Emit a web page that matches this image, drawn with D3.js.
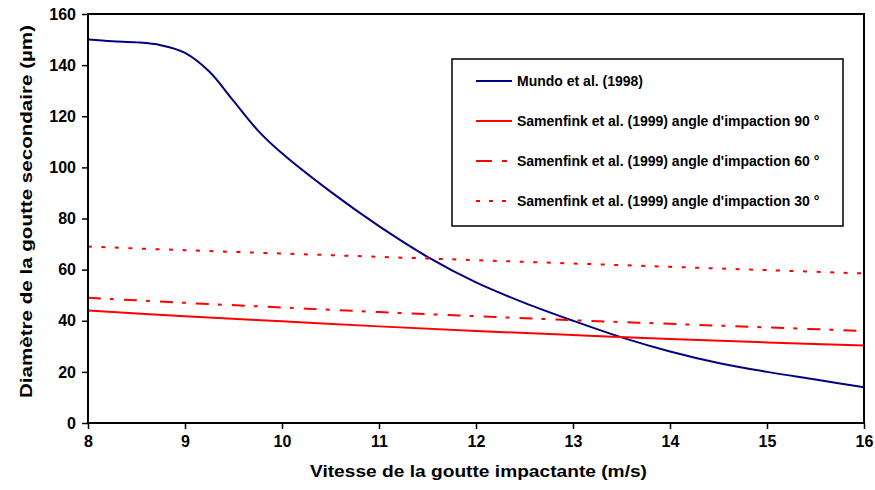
<!DOCTYPE html>
<html>
<head>
<meta charset="utf-8">
<script src="https://cdn.jsdelivr.net/npm/d3@7"></script>
<style>
  html, body { margin: 0; padding: 0; background: #fff; }
  svg text { font-family: "Liberation Sans", Arial, sans-serif; font-weight: bold; fill: #000; }
</style>
</head>
<body>
<svg id="chart" width="875" height="490"></svg>
<script>
// Impact velocity (m/s) and secondary droplet diameters (µm)
const mundoX = [8, 8.25, 8.5, 8.75, 9, 9.25, 9.5, 9.75, 10, 10.5, 11, 11.5, 12, 12.5, 13, 13.5, 14, 14.5, 15, 15.5, 16];
const mundoY = [150, 149.3, 148.9, 147.8, 144.8, 137.5, 126, 114.5, 105.5, 90.5, 77, 65, 55, 47, 40, 33.5, 28, 23.5, 20, 17, 14];

const samX = [8, 9, 10, 11, 12, 13, 14, 15, 16];
const sam90 = [44, 41.8, 39.8, 37.8, 36, 34.4, 32.9, 31.5, 30.3];
const sam60 = [49, 47, 45.2, 43.4, 41.8, 40.2, 38.8, 37.4, 36];
const sam30 = [69, 67.6, 66.3, 65, 63.7, 62.4, 61.1, 59.8, 58.5];

const seriesNames = [
  "Mundo et al. (1998)",
  "Samenfink et al. (1999) angle d'impaction 90 °",
  "Samenfink et al. (1999) angle d'impaction 60 °",
  "Samenfink et al. (1999) angle d'impaction 30 °"
];
const xTicks = [8, 9, 10, 11, 12, 13, 14, 15, 16];
const yTicks = [0, 20, 40, 60, 80, 100, 120, 140, 160];

const svg = d3.select("#chart");
const plot = { left: 88, right: 864, top: 14, bottom: 423 };

const x = d3.scaleLinear().domain([8, 16]).range([plot.left, plot.right]);
const y = d3.scaleLinear().domain([0, 160]).range([plot.bottom, plot.top]);

svg.append("defs").append("clipPath").attr("id", "plotclip")
  .append("rect")
  .attr("x", plot.left).attr("y", plot.top)
  .attr("width", plot.right - plot.left).attr("height", plot.bottom - plot.top);

const series = [
  { xs: mundoX, ys: mundoY, color: "#000080", dash: null, legendDash: null },
  { xs: samX, ys: sam90, color: "#ff0000", dash: null, legendDash: null },
  { xs: samX, ys: sam60, color: "#ff0000", dash: "13,9,4,10", legendDash: "16,10,5,10" },
  { xs: samX, ys: sam30, color: "#ff0000", dash: "4,9.5", legendDash: "4,9" }
];

const g = svg.append("g").attr("clip-path", "url(#plotclip)");
series.forEach(s => {
  const pts = s.xs.map((v, i) => [v, s.ys[i]]);
  const line = d3.line().x(d => x(d[0])).y(d => y(d[1])).curve(d3.curveCatmullRom.alpha(0.5));
  g.append("path")
    .attr("d", line(pts))
    .attr("fill", "none")
    .attr("stroke", s.color)
    .attr("stroke-width", 2)
    .attr("stroke-dasharray", s.dash);
});

// Axes
const xAxis = d3.axisBottom(x).tickValues(xTicks).tickSize(6).tickPadding(7).tickFormat(d3.format("d"));
const yAxis = d3.axisLeft(y).tickValues(yTicks).tickSize(6).tickPadding(6).tickFormat(d3.format("d"));

const gx = svg.append("g").attr("transform", `translate(0,${plot.bottom})`).call(xAxis);
const gy = svg.append("g").attr("transform", `translate(${plot.left},0)`).call(yAxis);
[gx, gy].forEach(ax => {
  ax.select(".domain").remove();
  ax.selectAll(".tick line").attr("stroke", "#000").attr("stroke-width", 1.5);
  ax.selectAll(".tick text")
    .style("font-size", "16px")
    .style("font-family", "'Liberation Sans', Arial, sans-serif")
    .style("font-weight", "bold");
});

// Plot frame
svg.append("rect")
  .attr("x", plot.left).attr("y", plot.top)
  .attr("width", plot.right - plot.left).attr("height", plot.bottom - plot.top)
  .attr("fill", "none").attr("stroke", "#000").attr("stroke-width", 2);

// Axis titles
svg.append("text")
  .attr("x", 478.5).attr("y", 477)
  .attr("text-anchor", "middle")
  .attr("textLength", 337).attr("lengthAdjust", "spacingAndGlyphs")
  .style("font-size", "17px")
  .text("Vitesse de la goutte impactante (m/s)");

svg.append("text")
  .attr("transform", "translate(32,211.5) rotate(-90)")
  .attr("text-anchor", "middle")
  .attr("textLength", 373).attr("lengthAdjust", "spacingAndGlyphs")
  .style("font-size", "17px")
  .text("Diamètre de la goutte secondaire (µm)");

// Legend
const legend = svg.append("g");
legend.append("rect")
  .attr("x", 452).attr("y", 59).attr("width", 391).attr("height", 167)
  .attr("fill", "#fff").attr("stroke", "#000").attr("stroke-width", 1.5);

const rowY = [81, 121, 161, 201];
series.forEach((s, i) => {
  legend.append("line")
    .attr("x1", 476).attr("x2", 512)
    .attr("y1", rowY[i]).attr("y2", rowY[i])
    .attr("stroke", s.color).attr("stroke-width", 2)
    .attr("stroke-dasharray", s.legendDash);
  legend.append("text")
    .attr("x", 517).attr("y", rowY[i] + 5)
    .style("font-size", "14px")
    .text(seriesNames[i]);
});
</script>
</body>
</html>
